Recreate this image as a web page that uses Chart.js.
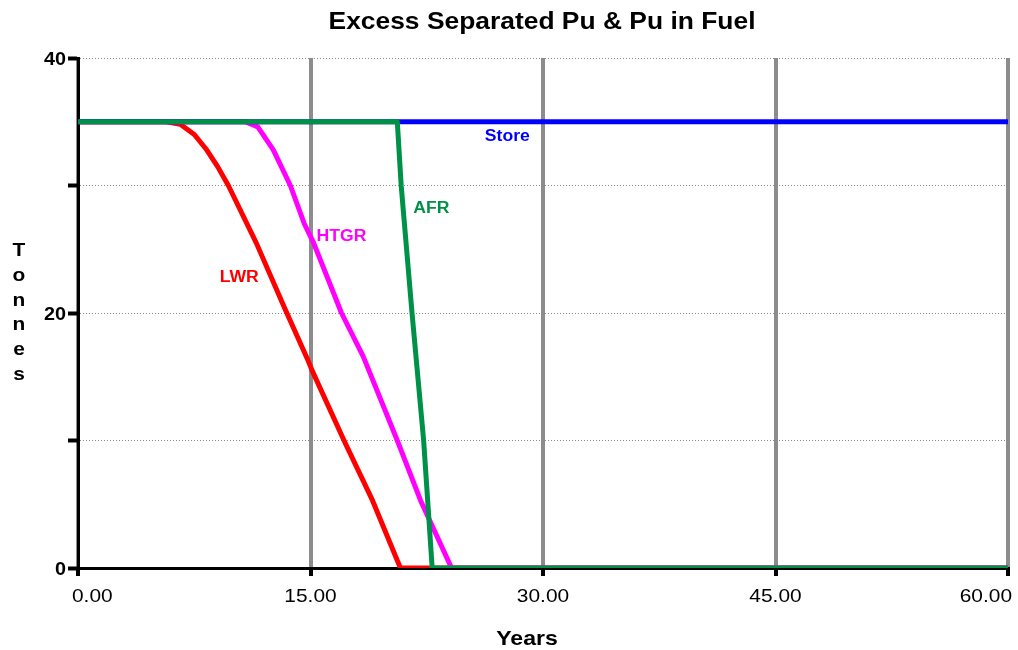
<!DOCTYPE html>
<html>
<head>
<meta charset="utf-8">
<title>Excess Separated Pu & Pu in Fuel</title>
<script src="https://cdn.jsdelivr.net/npm/chart.js@4/dist/chart.umd.min.js"></script>
<style>
  html, body { margin:0; padding:0; background:#fff; }
  #wrap { width:1018px; height:650px; position:relative; }
</style>
</head>
<body>
<div id="wrap"><canvas id="chart"></canvas></div>
<script>
// ── data ──────────────────────────────────────────────────────
const chartTitle = 'Excess Separated Pu & Pu in Fuel';
const xTitle = 'Years';
const yTitle = 'Tonnes';
const xTicks = [0, 15, 30, 45, 60];
const yLabelTicks = [0, 20, 40];

const storeYears  = [0, 60];
const storeTonnes = [35, 35];

const afrYears  = [0, 20.6, 20.85, 21.55, 22.3, 22.85, 60];
const afrTonnes = [35, 35, 30, 20, 10, 0, 0];

const htgrYears  = [0, 10.8, 11.6, 12.6, 13.7, 14.6, 15.2, 17.0, 18.4, 20.6, 22.1, 24.1, 60];
const htgrTonnes = [35, 35, 34.6, 32.8, 30, 27, 25.5, 20, 16.6, 10, 5.3, 0, 0];

const lwrYears  = [0, 5.7, 6.6, 7.5, 8.3, 9.0, 9.7, 11.5, 13.4, 14.8, 15.1, 17.2, 19.0, 20.8, 60];
const lwrTonnes = [35, 35, 34.8, 34, 32.8, 31.5, 30, 25.5, 20.2, 16.4, 15.5, 9.9, 5.3, 0, 0];

// series name, colour, label anchor (years, tonnes)
const seriesNames  = ['AFR', 'Store', 'HTGR', 'LWR'];
const seriesColors = ['#009148', '#0000ff', '#ff00ff', '#ff0000'];
const labelYears   = [22.8, 27.7, 17.0, 10.4];
const labelTonnes  = [28.2, 33.8, 26.0, 22.8];

const FONT = '"Liberation Sans", Arial, sans-serif';
const STRETCH = 1.1;   // reference text is a bit wider than plain Arial

function pts(xs, ys){ return xs.map((x,i) => ({ x:x, y:ys[i] })); }

const seriesData = [pts(afrYears, afrTonnes), pts(storeYears, storeTonnes), pts(htgrYears, htgrTonnes), pts(lwrYears, lwrTonnes)];

// draws text stretched horizontally around its anchor
function drawText(ctx, txt, x, y, font, align){
  ctx.save();
  ctx.font = font;
  ctx.textAlign = align || 'center';
  ctx.translate(x, y);
  ctx.scale(STRETCH, 1);
  ctx.fillText(txt, 0, 0);
  ctx.restore();
}

// ── custom text: title, tick labels, axis titles, line labels ─
const textPlugin = {
  id: 'textPlugin',
  afterDraw(chart){
    const ctx = chart.ctx, xs = chart.scales.x, ys = chart.scales.y;
    ctx.save();
    ctx.fillStyle = '#000';
    ctx.textBaseline = 'alphabetic';

    drawText(ctx, chartTitle, 542, 29, 'bold 24px ' + FONT, 'center');

    xTicks.forEach((v, i) => {
      const px = xs.getPixelForValue(v);
      const txt = v.toFixed(2);
      const f = '19px ' + FONT;
      if(i === 0) drawText(ctx, txt, px - 6, 602, f, 'left');
      else if(i === xTicks.length - 1) drawText(ctx, txt, px + 4, 602, f, 'right');
      else drawText(ctx, txt, px, 602, f, 'center');
    });

    yLabelTicks.forEach(v => {
      drawText(ctx, String(v), ys.left + 66, ys.getPixelForValue(v) + 7, 'bold 18px ' + FONT, 'right');
    });

    drawText(ctx, xTitle, 527, 645, 'bold 21px ' + FONT, 'center');

    // stacked vertical letters
    yTitle.split('').forEach((c, i) => {
      drawText(ctx, c, 19, 256 + i * 24.8, 'bold 19px ' + FONT, 'center');
    });
    ctx.restore();
  },
  afterDatasetsDraw(chart){
    const ctx = chart.ctx, xs = chart.scales.x, ys = chart.scales.y;
    ctx.save();
    ctx.textBaseline = 'middle';
    seriesNames.forEach((n, i) => {
      ctx.fillStyle = seriesColors[i];
      drawText(ctx, n, xs.getPixelForValue(labelYears[i]), ys.getPixelForValue(labelTonnes[i]), 'bold 16px ' + FONT, 'center');
    });
    ctx.restore();
  }
};

new Chart(document.getElementById('chart'), {
  type: 'line',
  data: {
    datasets: seriesNames.map((n, i) => ({
      label: n,
      data: seriesData[i],
      borderColor: seriesColors[i],
      backgroundColor: seriesColors[i],
      borderWidth: 5,
      pointRadius: 0,
      tension: 0,
      fill: false,
      borderJoinStyle: 'round',
      order: i
    }))
  },
  options: {
    responsive: true,
    maintainAspectRatio: false,
    animation: false,
    layout: { padding: { top: 58, left: 0, right: 10, bottom: 0 } },
    plugins: { legend: { display: false }, tooltip: { enabled: false }, title: { display: false } },
    scales: {
      x: {
        type: 'linear', min: 0, max: 60,
        ticks: { stepSize: 15, display: false },
        grid: { color: '#8c8c8c', lineWidth: 4, tickColor: '#000', tickWidth: 4, tickLength: 8, drawTicks: true },
        border: { display: true, color: '#000', width: 3 },
        afterFit: s => { s.height = 82; }
      },
      y: {
        min: 0, max: 40,
        ticks: { stepSize: 10, display: false },
        grid: { color: '#8a8a8a', lineWidth: 1, tickColor: '#000', tickWidth: 4, tickLength: 10, tickBorderDash: [] },
        border: { display: true, color: '#000', width: 3, dash: [1, 2] },
        afterFit: s => { s.width = 78; }
      }
    }
  },
  plugins: [textPlugin]
});
</script>
</body>
</html>
